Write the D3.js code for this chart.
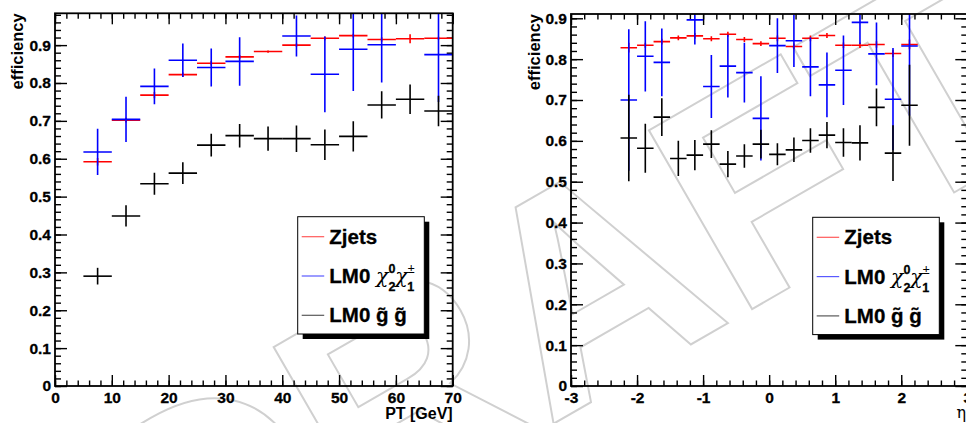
<!DOCTYPE html>
<html>
<head>
<meta charset="utf-8">
<script src="https://cdn.jsdelivr.net/npm/d3@7"></script>
<style>
  body { margin: 0; background: #fff; }
  svg { display: block; }
  text { font-family: "Liberation Sans", Arial, sans-serif; font-weight: bold; fill: #000; }
</style>
</head>
<body>
<div id="chart"></div>
<script>
(function () {

  // ---- data: PT panel (bins 5 GeV wide) ----
  const ptBins = [7.5, 12.5, 17.5, 22.5, 27.5, 32.5, 37.5, 42.5, 47.5, 52.5, 57.5, 62.5, 67.5]
  const ptHalf = 2.5
  const zjetsPt    = [0.592, 0.702, 0.768, 0.822, 0.852, 0.869, 0.883, 0.900, 0.918, 0.925, 0.915, 0.917, 0.918]
  const zjetsPtErr = [0.010, 0.006, 0.008, 0.006, 0.006, 0.005, 0.003, 0.004, 0.005, 0.005, 0.006, 0.012, 0.004]
  const chiPt      = [0.618, 0.704, 0.791, 0.860, 0.841, 0.857, null, 0.924, 0.823, 0.889, 0.901, null, 0.875]
  const chiPtErr   = [0.061, 0.060, 0.047, 0.044, 0.050, 0.064, null, 0.054, 0.100, 0.110, 0.100, null, 0.125]
  const gluPt      = [0.290, 0.449, 0.534, 0.562, 0.636, 0.661, 0.653, 0.653, 0.637, 0.659, 0.742, 0.757, 0.726]
  const gluPtErr   = [0.022, 0.028, 0.029, 0.029, 0.030, 0.031, 0.032, 0.035, 0.040, 0.040, 0.036, 0.039, 0.040]

  // ---- data: eta panel (bins 0.25 wide) ----
  const etaBins = [-2.125, -1.875, -1.625, -1.375, -1.125, -0.875, -0.625, -0.375, -0.125,
                   0.125, 0.375, 0.625, 0.875, 1.125, 1.375, 1.625, 1.875, 2.125]
  const etaHalf = 0.125
  const zjetsEta    = [0.828, 0.834, 0.843, 0.852, 0.857, 0.850, 0.861, 0.848, 0.838, 0.851, 0.831, 0.851, 0.858, 0.834, 0.834, 0.836, 0.814, 0.836]
  const zjetsEtaErr = [0.012, 0.006, 0.007, 0.006, 0.007, 0.006, 0.006, 0.006, 0.006, 0.007, 0.007, 0.007, 0.006, 0.007, 0.007, 0.008, 0.009, 0.012]
  const chiEta      = [0.700, 0.807, 0.792, null, 0.896, 0.733, 0.783, 0.767, 0.655, 0.833, 0.845, 0.781, 0.737, 0.773, 0.890, 0.813, 0.702, 0.832]
  const chiEtaErr   = [0.173, 0.086, 0.083, null, 0.060, 0.077, 0.077, 0.073, 0.103, 0.067, 0.064, 0.072, 0.079, 0.085, 0.053, 0.077, 0.125, 0.170]
  const gluEta      = [0.607, 0.582, 0.658, 0.557, 0.565, 0.592, 0.543, 0.563, 0.592, 0.567, 0.578, 0.601, 0.614, 0.596, 0.595, 0.682, 0.570, 0.687]
  const gluEtaErr   = [0.106, 0.060, 0.046, 0.043, 0.037, 0.034, 0.032, 0.029, 0.035, 0.027, 0.030, 0.030, 0.032, 0.035, 0.043, 0.046, 0.068, 0.099]

  // ---- tick labels ----
  const ptTicks  = [0, 10, 20, 30, 40, 50, 60, 70]
  const etaTicks = [-3, -2, -1, 0, 1, 2, 3]
  const effTicks = [0, 0.1, 0.2, 0.3, 0.4, 0.5, 0.6, 0.7, 0.8, 0.9]

  const colors = { zjets: "#ff0000", chi: "#0000ff", glu: "#000000" }

  const W = 966, H = 423

  const svg = d3.select("#chart").append("svg")
      .attr("width", W)
      .attr("height", H)

  // DRAFT watermark behind everything (kept inside the picture)
  svg.append("clipPath").attr("id", "clip-page")
    .append("rect").attr("width", W).attr("height", H)
  svg.append("g").attr("clip-path", "url(#clip-page)")
    .append("text")
      .attr("transform", "translate(612,390) rotate(-30)")
      .attr("text-anchor", "middle")
      .style("font-size", "300px")
      .style("fill", "none")
      .style("stroke", "#d0d0d0")
      .style("stroke-width", 2)
      .text("DRAFT")

  function panel(cfg) {
    const g = svg.append("g")

    const x = d3.scaleLinear().domain(cfg.xDomain).range([cfg.x0, cfg.x1])
    const y = d3.scaleLinear().domain([0, cfg.yMax]).range([cfg.y1, cfg.y0])

    const clipId = "clip-" + cfg.id
    svg.append("clipPath").attr("id", clipId)
      .append("rect")
      .attr("x", cfg.x0).attr("y", cfg.y0)
      .attr("width", cfg.x1 - cfg.x0).attr("height", cfg.y1 - cfg.y0)

    // major + minor ticks, all pointing inside the frame
    const fmtX = d => String(d)
    const fmtY = d => d === 0 ? "0" : d3.format(".1f")(d)
    const xMinor = d3.range(cfg.xDomain[0], cfg.xDomain[1] + 1e-9, cfg.xMinorStep)
    const yMinor = d3.range(0, cfg.yMax, 0.02)

    g.append("g").attr("class", "axis")
      .attr("transform", "translate(0," + cfg.y1 + ")")
      .call(d3.axisBottom(x).tickValues(cfg.xTicks).tickFormat(fmtX).tickSize(-11).tickPadding(6))
    g.append("g").attr("class", "axis minor")
      .attr("transform", "translate(0," + cfg.y1 + ")")
      .call(d3.axisBottom(x).tickValues(xMinor).tickFormat("").tickSize(-5.5))
    g.append("g").attr("class", "axis")
      .attr("transform", "translate(0," + cfg.y0 + ")")
      .call(d3.axisTop(x).tickValues(cfg.xTicks).tickFormat("").tickSize(-11))
    g.append("g").attr("class", "axis minor")
      .attr("transform", "translate(0," + cfg.y0 + ")")
      .call(d3.axisTop(x).tickValues(xMinor).tickFormat("").tickSize(-5.5))

    g.append("g").attr("class", "axis")
      .attr("transform", "translate(" + cfg.x0 + ",0)")
      .call(d3.axisLeft(y).tickValues(effTicks).tickFormat(fmtY).tickSize(-12).tickPadding(4))
    g.append("g").attr("class", "axis minor")
      .attr("transform", "translate(" + cfg.x0 + ",0)")
      .call(d3.axisLeft(y).tickValues(yMinor).tickFormat("").tickSize(-6))
    g.append("g").attr("class", "axis")
      .attr("transform", "translate(" + cfg.x1 + ",0)")
      .call(d3.axisRight(y).tickValues(effTicks).tickFormat("").tickSize(-12))
    g.append("g").attr("class", "axis minor")
      .attr("transform", "translate(" + cfg.x1 + ",0)")
      .call(d3.axisRight(y).tickValues(yMinor).tickFormat("").tickSize(-6))

    g.selectAll(".axis .domain").remove()
    g.selectAll(".axis line").attr("stroke", "#000").attr("stroke-width", 1.4)
    g.selectAll(".axis text")
      .style("font-size", "15.5px")
      .style("font-family", '"Liberation Sans", Arial, sans-serif')
      .style("font-weight", "bold")
      .style("stroke", "#000").style("stroke-width", 0.3)
      .attr("fill", "#000")

    // error crosses
    const marks = g.append("g").attr("clip-path", "url(#" + clipId + ")")
    cfg.series.forEach(s => {
      const pts = cfg.bins.map((b, i) => ({ b: b, v: s.values[i], e: s.errors[i] }))
                    .filter(d => d.v !== null)
      const sg = marks.append("g").attr("stroke", s.color).attr("stroke-width", 1.6)
      sg.selectAll("line.h").data(pts).enter().append("line")
        .attr("class", "h")
        .attr("x1", d => x(d.b - cfg.half))
        .attr("x2", d => x(d.b + cfg.half))
        .attr("y1", d => y(d.v))
        .attr("y2", d => y(d.v))
      sg.selectAll("line.v").data(pts).enter().append("line")
        .attr("class", "v")
        .attr("x1", d => x(d.b))
        .attr("x2", d => x(d.b))
        .attr("y1", d => y(d.v - d.e))
        .attr("y2", d => y(d.v + d.e))
    })

    // frame
    g.append("rect")
      .attr("x", cfg.x0).attr("y", cfg.y0)
      .attr("width", cfg.x1 - cfg.x0).attr("height", cfg.y1 - cfg.y0)
      .attr("fill", "none").attr("stroke", "#000").attr("stroke-width", 1.8)

    // axis titles
    g.append("text")
      .attr("transform", "translate(" + cfg.yTitleX + "," + cfg.y0 + ") rotate(-90)")
      .attr("text-anchor", "end")
      .style("font-size", "16.5px")
      .text("efficiency")

    cfg.xTitle(g)

    // legend
    const lx = cfg.legX, ly = cfg.legY, lw = 126.6, lh = 117.3
    g.append("rect").attr("x", lx + 5).attr("y", ly + 5).attr("width", lw).attr("height", lh).attr("fill", "#000")
    g.append("rect").attr("x", lx).attr("y", ly).attr("width", lw).attr("height", lh)
      .attr("fill", "#fff").attr("stroke", "#000").attr("stroke-width", 1)

    const rows = [ly + 20, ly + 59.3, ly + 98.6]
    cfg.series.forEach((s, i) => {
      g.append("line")
        .attr("x1", lx + 4).attr("x2", lx + 26.5)
        .attr("y1", rows[i]).attr("y2", rows[i])
        .attr("stroke", s.color).attr("stroke-width", 1.2).attr("stroke-opacity", 0.65)
      const t = g.append("text")
        .attr("x", lx + 31.6).attr("y", rows[i] + 7)
        .style("font-size", "20.5px")
        .style("stroke", "#000").style("stroke-width", 0.3)
      s.label(t)
    })
  }

  function chiLabel(t) {
    t.append("tspan").text("LM0 ")
    t.append("tspan").style("font-family", '"DejaVu Serif", serif').style("font-style", "italic")
      .style("font-weight", "normal").style("stroke-width", 0).text("χ")
    t.append("tspan").attr("dy", -10).style("font-size", "12.5px").text("0")
    t.append("tspan").attr("dx", -7).attr("dy", 18).style("font-size", "12.5px").text("2")
    t.append("tspan").attr("dy", -8).style("font-family", '"DejaVu Serif", serif').style("font-style", "italic")
      .style("font-weight", "normal").style("stroke-width", 0).text("χ")
    t.append("tspan").attr("dy", -10).style("font-size", "12.5px").style("font-weight", "normal").style("stroke-width", 0).text("±")
    t.append("tspan").attr("dx", -7.5).attr("dy", 18).style("font-size", "12.5px").text("1")
  }
  function gluLabel(t) {
    t.text("LM0 g\u0303 g\u0303")
  }
  function zjLabel(t) {
    t.text("Zjets")
  }

  panel({
    id: "pt", x0: 55, x1: 452.7, y0: 13.3, y1: 386,
    xDomain: [0, 70], yMax: 0.984, xTicks: ptTicks, xMinorStep: 2,
    bins: ptBins, half: ptHalf,
    yTitleX: 23,
    legX: 297.7, legY: 216.7,
    series: [
      { values: zjetsPt, errors: zjetsPtErr, color: colors.zjets, label: zjLabel },
      { values: chiPt, errors: chiPtErr, color: colors.chi, label: chiLabel },
      { values: gluPt, errors: gluPtErr, color: colors.glu, label: gluLabel }
    ],
    xTitle: g => g.append("text")
      .attr("x", 452.7).attr("y", 419)
      .attr("text-anchor", "end")
      .style("font-size", "16px")
      .text("PT [GeV]")
  })

  panel({
    id: "eta", x0: 571, x1: 967.3, y0: 14, y1: 386,
    xDomain: [-3, 3], yMax: 0.9105, xTicks: etaTicks, xMinorStep: 0.2,
    bins: etaBins, half: etaHalf,
    yTitleX: 540,
    legX: 812.7, legY: 217.3,
    series: [
      { values: zjetsEta, errors: zjetsEtaErr, color: colors.zjets, label: zjLabel },
      { values: chiEta, errors: chiEtaErr, color: colors.chi, label: chiLabel },
      { values: gluEta, errors: gluEtaErr, color: colors.glu, label: gluLabel }
    ],
    xTitle: g => g.append("text")
      .attr("x", 966).attr("y", 418)
      .attr("text-anchor", "end")
      .style("font-family", '"DejaVu Serif", serif')
      .style("font-weight", "normal")
      .style("font-size", "16px")
      .text("η")
  })

})();
</script>
</body>
</html>
